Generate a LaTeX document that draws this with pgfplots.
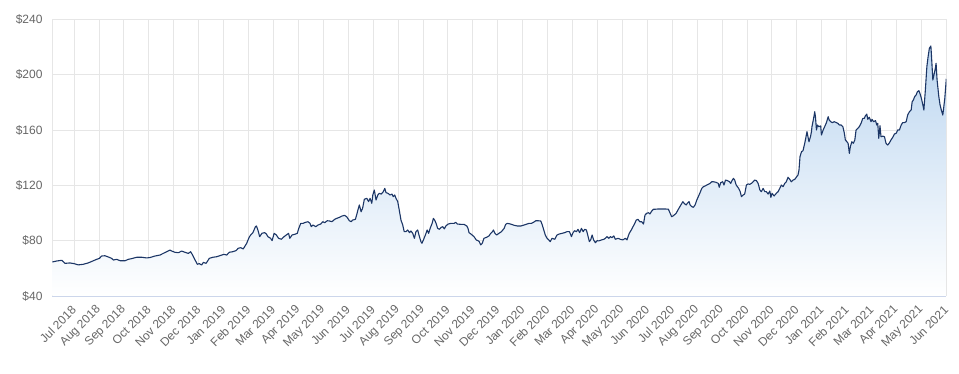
\documentclass[border=0pt]{standalone}
\usepackage{fontspec}
\setmainfont{Liberation Sans}
\usepackage{pgfplots}
\usepackage{pgfplotstable}
\pgfplotsset{compat=1.18}
\definecolor{gridgray}{RGB}{230,230,230}
\definecolor{axisgray}{RGB}{204,214,235}
\definecolor{labelgray}{RGB}{102,102,102}
\definecolor{linecol}{RGB}{28,54,102}
\definecolor{areatop}{RGB}{188,214,240}

\pgfplotstableread{
m v
-0.87 64.6
-0.69 65.3
-0.49 65.8
-0.36 63.6
-0.16 63.9
0.00 63.4
0.17 62.5
0.37 62.9
0.57 63.9
0.78 65.5
0.91 66.5
1.02 67.2
1.11 68.9
1.24 69.1
1.38 68.2
1.51 67.2
1.58 66.0
1.71 66.5
1.85 65.5
2.05 65.5
2.18 66.5
2.31 67.0
2.52 68.0
2.72 68.0
2.92 67.5
3.05 67.8
3.25 68.9
3.45 69.6
3.58 70.8
3.72 72.0
3.85 73.2
3.92 72.5
4.05 71.6
4.19 71.3
4.32 72.5
4.45 71.6
4.59 70.8
4.68 72.0
4.76 69.6
4.86 66.0
4.95 62.9
5.03 63.4
5.12 62.4
5.19 64.3
5.30 63.6
5.43 67.2
5.57 68.0
5.73 68.4
5.89 69.4
6.02 70.1
6.13 69.6
6.23 71.6
6.37 72.0
6.50 72.8
6.59 74.5
6.69 74.9
6.79 74.0
6.93 78.1
7.03 82.5
7.09 84.1
7.18 85.8
7.28 90.1
7.32 90.6
7.38 87.7
7.45 82.9
7.54 85.3
7.65 85.8
7.72 84.8
7.78 82.9
7.89 81.7
7.95 80.0
8.03 85.3
8.12 84.1
8.21 81.7
8.32 81.0
8.43 82.9
8.52 84.1
8.61 85.3
8.66 81.7
8.75 84.1
8.86 84.6
8.96 85.3
9.02 88.9
9.10 92.5
9.19 92.5
9.28 93.2
9.39 93.7
9.47 92.5
9.52 90.1
9.59 91.3
9.70 90.1
9.79 91.3
9.90 92.0
9.98 93.7
10.06 93.0
10.16 94.4
10.26 94.2
10.35 93.7
10.46 95.4
10.54 96.1
10.66 96.9
10.75 97.8
10.86 98.3
10.94 97.3
11.05 94.4
11.12 93.7
11.18 94.9
11.29 95.4
11.34 98.5
11.40 102.7
11.45 105.8
11.52 100.9
11.58 103.4
11.65 109.9
11.75 110.6
11.82 108.2
11.88 110.6
11.95 107.0
11.99 113.0
12.05 116.6
12.12 109.4
12.19 113.0
12.25 114.2
12.33 113.7
12.41 115.4
12.47 117.8
12.52 114.7
12.60 114.2
12.68 113.0
12.76 113.7
12.81 111.8
12.87 113.0
12.92 110.6
12.99 108.2
13.05 102.2
13.12 94.9
13.19 91.3
13.25 86.5
13.32 86.5
13.39 87.7
13.46 85.8
13.52 87.0
13.59 85.3
13.66 81.7
13.72 86.5
13.79 87.7
13.86 82.9
13.92 79.3
13.96 78.1
14.02 80.5
14.10 84.1
14.17 87.7
14.23 85.3
14.29 88.9
14.37 92.5
14.42 96.1
14.47 94.9
14.53 92.5
14.59 88.9
14.66 88.2
14.73 89.6
14.80 90.1
14.86 88.5
14.92 90.6
15.01 92.0
15.12 92.5
15.25 92.5
15.32 93.2
15.38 92.0
15.52 91.8
15.65 91.8
15.76 90.6
15.81 88.9
15.85 85.8
15.94 84.6
16.05 82.9
16.14 80.5
16.21 80.0
16.26 79.3
16.32 76.9
16.38 78.1
16.45 81.7
16.55 82.4
16.65 83.4
16.72 85.3
16.79 86.5
16.83 87.7
16.89 85.3
16.96 84.1
17.05 85.3
17.15 86.5
17.26 88.9
17.32 91.8
17.39 92.5
17.52 92.0
17.66 91.1
17.79 90.6
17.93 90.6
18.06 91.3
18.17 92.0
18.26 92.5
18.35 92.5
18.43 93.2
18.53 94.4
18.62 94.4
18.73 94.2
18.79 91.3
18.85 87.7
18.91 84.1
18.98 81.7
19.05 80.5
19.11 79.3
19.18 81.7
19.29 81.0
19.38 84.1
19.47 84.8
19.58 85.3
19.69 85.8
19.78 86.5
19.88 86.5
19.96 82.9
20.01 85.3
20.08 87.2
20.16 86.5
20.22 88.2
20.29 85.8
20.36 88.9
20.43 86.5
20.49 88.2
20.56 87.7
20.63 82.9
20.68 79.3
20.73 80.5
20.79 84.1
20.85 80.5
20.92 78.5
20.99 80.0
21.05 79.8
21.16 80.5
21.26 81.0
21.32 81.7
21.39 82.9
21.46 81.7
21.52 82.9
21.59 82.2
21.66 83.4
21.72 81.0
21.83 81.7
21.92 81.0
22.02 80.5
22.12 81.7
22.19 80.5
22.23 82.9
22.28 85.3
22.36 87.7
22.43 90.1
22.50 92.5
22.56 94.9
22.63 95.4
22.70 93.7
22.78 93.7
22.85 92.0
22.91 98.5
22.98 99.8
23.05 100.2
23.11 99.3
23.18 101.4
23.25 102.7
23.31 102.7
23.45 102.9
23.58 102.9
23.72 102.9
23.85 102.7
23.92 99.8
23.98 97.3
24.05 98.0
24.16 99.8
24.25 102.7
24.35 105.8
24.43 108.2
24.48 107.0
24.56 105.8
24.61 107.0
24.68 108.2
24.72 105.8
24.79 104.6
24.85 104.1
24.92 105.8
24.99 109.4
25.05 111.8
25.12 114.7
25.19 117.8
25.25 119.0
25.32 119.5
25.39 120.2
25.45 120.7
25.52 121.4
25.59 122.6
25.65 122.6
25.76 122.2
25.85 121.4
25.89 118.6
25.95 121.9
26.03 122.6
26.08 120.2
26.14 123.8
26.22 123.4
26.30 122.6
26.35 121.4
26.40 123.4
26.46 125.0
26.51 123.8
26.57 120.2
26.62 119.0
26.67 117.8
26.73 115.4
26.78 111.8
26.85 113.0
26.91 113.7
26.98 120.2
27.05 121.0
27.11 120.7
27.18 121.4
27.25 122.6
27.31 123.8
27.38 123.4
27.45 121.4
27.52 116.6
27.58 115.4
27.65 117.8
27.72 115.4
27.78 115.4
27.85 113.7
27.92 115.9
27.96 111.3
28.01 114.2
28.09 112.3
28.18 114.2
28.25 115.4
28.32 117.8
28.38 120.2
28.45 119.0
28.52 121.4
28.58 122.6
28.65 125.8
28.72 124.3
28.78 122.6
28.85 123.8
28.92 124.3
28.98 125.8
29.05 127.5
29.09 131.1
29.13 140.7
29.19 144.3
29.25 145.0
29.32 150.4
29.36 154.0
29.41 158.8
29.45 155.1
29.49 151.5
29.55 155.1
29.59 158.8
29.61 162.4
29.65 166.0
29.70 170.8
29.72 173.2
29.75 169.6
29.79 160.0
29.83 163.6
29.88 162.4
29.96 162.9
29.99 156.4
30.06 160.0
30.12 162.4
30.19 165.3
30.26 169.6
30.30 167.2
30.36 166.0
30.43 165.3
30.50 166.0
30.59 165.3
30.65 164.8
30.71 163.6
30.78 163.6
30.85 162.4
30.91 157.6
30.95 152.8
31.01 151.5
31.06 150.4
31.11 143.1
31.15 147.9
31.21 151.5
31.27 150.4
31.33 152.8
31.38 160.0
31.45 161.2
31.51 162.4
31.58 164.8
31.65 168.4
31.71 168.4
31.75 170.1
31.81 171.5
31.85 167.7
31.91 169.2
31.98 166.0
32.02 167.7
32.08 166.0
32.16 166.7
32.21 163.6
32.25 164.8
32.29 154.0
32.34 163.1
32.38 155.1
32.45 155.6
32.52 155.1
32.58 150.4
32.65 149.1
32.72 150.8
32.78 152.8
32.85 154.7
32.92 157.1
32.99 157.6
33.05 160.0
33.12 160.0
33.19 163.6
33.25 165.3
33.32 165.3
33.39 166.0
33.45 170.8
33.52 173.2
33.59 174.4
33.63 180.4
33.68 181.7
33.73 184.1
33.79 185.3
33.84 187.7
33.90 188.4
33.95 186.0
34.00 182.9
34.06 178.1
34.10 174.4
34.16 188.9
34.22 205.7
34.27 213.0
34.32 219.0
34.38 220.7
34.40 215.4
34.46 196.1
34.52 201.0
34.56 204.6
34.59 208.2
34.63 196.1
34.70 184.1
34.75 178.1
34.80 174.4
34.86 170.8
34.90 176.8
34.94 182.9
35.00 197.0
}\prices

\begin{document}
\begin{tikzpicture}
\path[use as bounding box] (-52.3pt,-78pt) rectangle (906.7pt,296pt);
\begin{axis}[
  at={(0,0)}, anchor=south west,
  scale only axis, width=894pt, height=276.7pt,
  xmin=-0.87, xmax=35.0, ymin=40, ymax=240,
  axis x line=bottom, axis y line=left,
  x axis line style={-, draw=axisgray, line width=0.8pt},
  y axis line style={-, draw=gridgray, line width=0.8pt},
  xtick={0,...,35},
  xticklabels={Jul 2018,Aug 2018,Sep 2018,Oct 2018,Nov 2018,Dec 2018,
    Jan 2019,Feb 2019,Mar 2019,Apr 2019,May 2019,Jun 2019,Jul 2019,Aug 2019,
    Sep 2019,Oct 2019,Nov 2019,Dec 2019,Jan 2020,Feb 2020,Mar 2020,Apr 2020,
    May 2020,Jun 2020,Jul 2020,Aug 2020,Sep 2020,Oct 2020,Nov 2020,Dec 2020,
    Jan 2021,Feb 2021,Mar 2021,Apr 2021,May 2021,Jun 2021},
  ytick={40,80,120,160,200,240},
  yticklabels={\$40,\$80,\$120,\$160,\$200,\$240},
  major tick length=0pt,
  grid=major,
  major grid style={draw=gridgray, line width=0.8pt},
  tick label style={font=\fontsize{12}{14}\selectfont, text=labelgray},
  xticklabel style={rotate=45, anchor=east, inner sep=0pt},
  xticklabel shift=12pt,
  yticklabel style={anchor=east, inner sep=0pt},
  yticklabel shift=9.6pt,
  clip=true,
  axis on top=false,
]
\addplot[draw=none, top color=areatop, bottom color=white] table[x=m, y=v] {\prices} \closedcycle;
\addplot[draw=linecol, line width=1.1pt, mark=none, line join=round] table[x=m, y=v] {\prices};
\end{axis}
\end{tikzpicture}
\end{document}
